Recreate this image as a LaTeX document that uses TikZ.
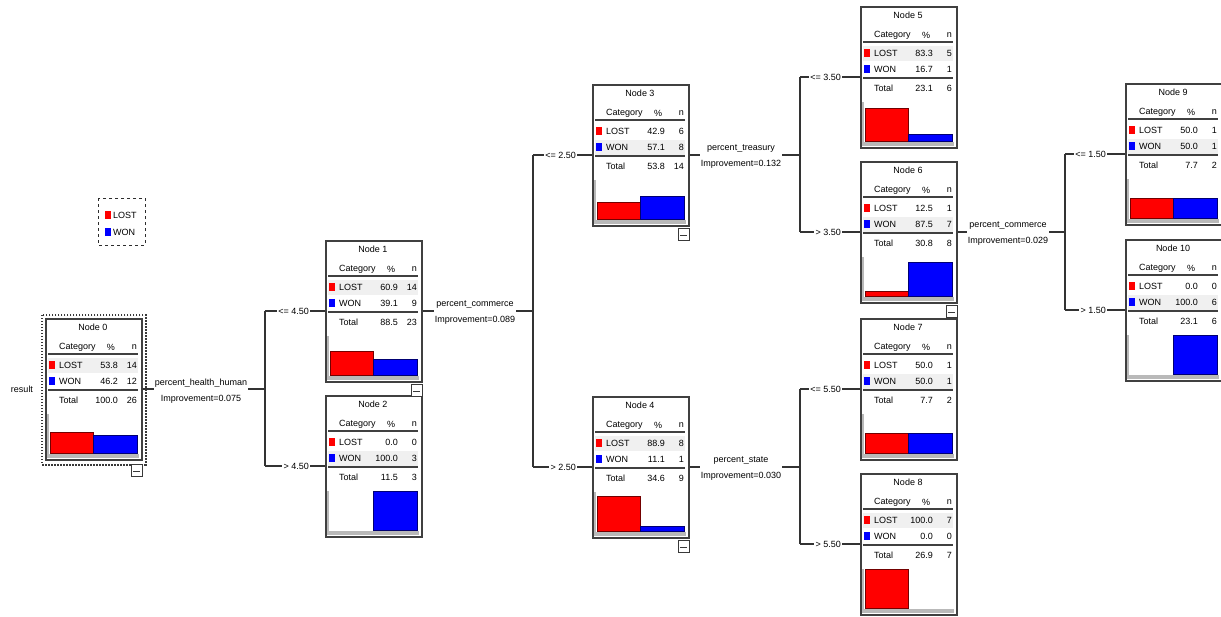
\documentclass[tikz,border=0pt]{standalone}
\usepackage{fontspec}
\setmainfont{Liberation Sans}
\begin{document}
\begin{tikzpicture}[x=1pt,y=-1pt,
  txt/.style={font=\fontsize{9}{10}\selectfont, inner sep=0pt, text=black},
  nodebox/.style={draw=gray!50!black, line width=1.6pt, fill=white, minimum width=96pt, minimum height=141pt, anchor=north west, inner sep=0pt},
  sepline/.style={draw=gray!50!black, line width=1.8pt},
  conn/.style={draw=gray!40!black, line width=1.3pt},
  splitlbl/.style={font=\fontsize{9}{16}\selectfont, align=center, inner sep=1pt, text=black},
  brlbl/.style={font=\fontsize{9}{10}\selectfont, inner sep=1pt, anchor=east, text=black},
  btn/.style={draw=gray!45!black, line width=0.9pt, fill=white, minimum width=11pt, minimum height=12pt, inner sep=0pt, anchor=north east,
    path picture={\draw[gray!45!black, line width=0.9pt] ([xshift=2pt,yshift=-1pt]path picture bounding box.west) -- ([xshift=-2pt,yshift=-1pt]path picture bounding box.east);}},
  lostbar/.style={fill=red, draw=red!45!black, line width=0.7pt},
  wonbar/.style={fill=blue, draw=blue!45!black, line width=0.7pt}
]
\useasboundingbox (0,0) rectangle (1221,616);
\fill[white] (0,0) rectangle (1221,616);

% tree nodes
\foreach \nm/\x/\y/\ti/\pL/\cL/\pW/\cW/\pT/\cT/\hr in {
  n0/45/318/0/53.8/14/46.2/12/100.0/26/47,
  n1/325/240/1/60.9/14/39.1/9/88.5/23/47,
  n2/325/395/2/0.0/0/100.0/3/11.5/3/63,
  n3/592/84/3/42.9/6/57.1/8/53.8/14/63,
  n4/592/396/4/88.9/8/11.1/1/34.6/9/47,
  n5/860/6/5/83.3/5/16.7/1/23.1/6/47,
  n6/860/161/6/12.5/1/87.5/7/30.8/8/63,
  n7/860/318/7/50.0/1/50.0/1/7.7/2/63,
  n8/860/473/8/100.0/7/0.0/0/26.9/7/47,
  n9/1125/83/9/50.0/1/50.0/1/7.7/2/63,
  n10/1125/239/10/0.0/0/100.0/6/23.1/6/63}
{
  \node[nodebox] (\nm) at (\x,\y) {};
  \coordinate (\nm-out) at ([yshift=-71pt]\nm.north east);
  \coordinate (\nm-in) at ([yshift=-71pt]\nm.north west);
  \begin{scope}[shift={(\x,\y)}]
    \fill[gray!12] (3,\hr-7.5) rectangle (93,\hr+7.5);
    \node[txt] at (48,9) {Node \ti};
    \node[txt,anchor=west] at (14,29) {Category};
    \node[txt] at (66,29) {\%};
    \node[txt,anchor=east] at (92,29) {n};
    \draw[sepline] (3,36) -- (93,36);
    \fill[red] (4,43) rectangle (10,51);
    \node[txt,anchor=west] at (14,47) {LOST};
    \node[txt,anchor=east] at (73,47) {\pL};
    \node[txt,anchor=east] at (92,47) {\cL};
    \fill[blue] (4,59) rectangle (10,67);
    \node[txt,anchor=west] at (14,63) {WON};
    \node[txt,anchor=east] at (73,63) {\pW};
    \node[txt,anchor=east] at (92,63) {\cW};
    \draw[sepline] (3,72) -- (93,72);
    \node[txt,anchor=west] at (14,82) {Total};
    \node[txt,anchor=east] at (73,82) {\pT};
    \node[txt,anchor=east] at (92,82) {\cT};
    \ifdim\pL pt>0pt \draw[lostbar] (5,135) rectangle (48,{135-\pL*0.39}); \fi
    \ifdim\pW pt>0pt \draw[wonbar] (48,135) rectangle (92.5,{135-\pW*0.39}); \fi
    \draw[gray!55, line width=1.8pt] (3.2,96) -- (3.2,136);
    \fill[gray!55] (2,135.5) rectangle (94,140);
  \end{scope}
}

% dotted frame of the root node
\draw[gray!45!black, line width=2.2pt, dash pattern=on 1.4pt off 1.6pt] ([shift={(-3,-3)}]n0.north west) rectangle ([shift={(3,4)}]n0.south east);

% collapse buttons
\node[btn] (bt0) at ([yshift=-3pt]n0.south east) {};
\foreach \b in {n1,n3,n4,n6} { \node[btn] (bt-\b) at ([yshift=-1.5pt]\b.south east) {}; }

% legend
\draw[gray!35!black, line width=1pt, dashed] (98,198) rectangle (145,245);
\fill[red] (105,211) rectangle (111,219);
\node[txt,anchor=west] (lgl) at (113,215) {LOST};
\fill[blue] (105,228) rectangle (111,236);
\node[txt,anchor=west] (lgw) at (113,232) {WON};

% root label
\node[txt] (res) at (22,389) {result};

% junction x positions
\coordinate (j0) at (265,0);
\coordinate (j1) at (533,0);
\coordinate (j3) at (800,0);
\coordinate (j4) at (800,0);
\coordinate (j6) at (1065,0);

% split labels
\node[splitlbl] (s0) at (201,391) {percent\_health\_human\\Improvement=0.075};
\node[splitlbl] (s1) at (475,313) {percent\_commerce\\Improvement=0.089};
\node[splitlbl] (s3) at (741,157) {percent\_treasury\\Improvement=0.132};
\node[splitlbl] (s4) at (741,469) {percent\_state\\Improvement=0.030};
\node[splitlbl] (s6) at (1008,234) {percent\_commerce\\Improvement=0.029};

% branch labels
\node[brlbl] (b1) at ([xshift=-15pt]n1-in) {<= 4.50};
\node[brlbl] (b2) at ([xshift=-15pt]n2-in) {> 4.50};
\node[brlbl] (b3) at ([xshift=-15pt]n3-in) {<= 2.50};
\node[brlbl] (b4) at ([xshift=-15pt]n4-in) {> 2.50};
\node[brlbl] (b5) at ([xshift=-18pt]n5-in) {<= 3.50};
\node[brlbl] (b6) at ([xshift=-18pt]n6-in) {> 3.50};
\node[brlbl] (b7) at ([xshift=-18pt]n7-in) {<= 5.50};
\node[brlbl] (b8) at ([xshift=-18pt]n8-in) {> 5.50};
\node[brlbl] (b9) at ([xshift=-18pt]n9-in) {<= 1.50};
\node[brlbl] (b10) at ([xshift=-18pt]n10-in) {> 1.50};

% connectors
\foreach \p/\s/\j/\a/\b in {n0/s0/j0/n1/n2, n1/s1/j1/n3/n4, n3/s3/j3/n5/n6, n4/s4/j4/n7/n8, n6/s6/j6/n9/n10}{
  \draw[conn] (\p-out) -- (\p-out -| \s.west);
  \draw[conn] (\p-out -| \s.east) -- (\p-out -| \j);
  \draw[conn] (\a-in -| \j) -- (\b-in -| \j);
}
\foreach \c/\bl/\j in {n1/b1/j0, n2/b2/j0, n3/b3/j1, n4/b4/j1, n5/b5/j3, n6/b6/j3, n7/b7/j4, n8/b8/j4, n9/b9/j6, n10/b10/j6}{
  \draw[conn] (\c-in -| \j) -- (\bl.west);
  \draw[conn] (\bl.east) -- (\c-in);
}
\end{tikzpicture}
\end{document}
